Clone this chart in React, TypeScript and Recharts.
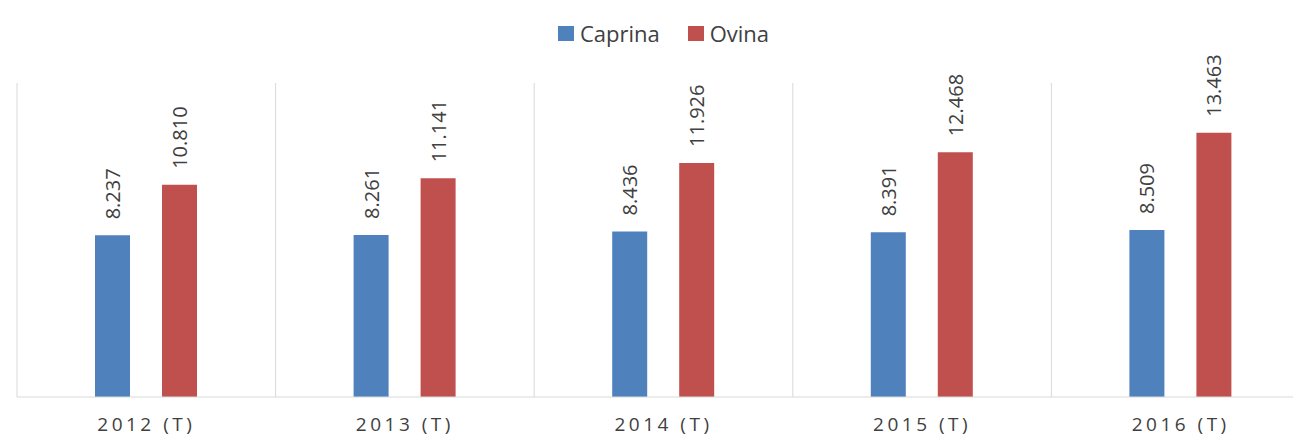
import { BarChart, Bar, XAxis, YAxis, CartesianGrid, Legend, LabelList } from "recharts";

const YEARS = ["2012 (T)", "2013 (T)", "2014 (T)", "2015 (T)", "2016 (T)"];
const CAPRINA = [8237, 8261, 8436, 8391, 8509];
const OVINA = [10810, 11141, 11926, 12468, 13463];
const Y_DOMAIN = [0, 16000];

const SERIES = [
  { key: "caprina", name: "Caprina", color: "#4f81bd" },
  { key: "ovina", name: "Ovina", color: "#c0504d" },
];

const data = YEARS.map((year, i) => ({
  year,
  caprina: CAPRINA[i],
  ovina: OVINA[i],
}));

const FONT = "'Open Sans', 'DejaVu Sans', sans-serif";
const TEXT = "#404040";
const GRID = "#d9d9d9";

// thousands with a dot separator, e.g. 13463 -> 13.463
const fmt = (v: number) => String(v).replace(/\B(?=(\d{3})+(?!\d))/g, ".");

function RotatedLabel(props: any) {
  const { x, y, width, value } = props;
  const cx = Number(x) + Number(width) / 2;
  const cy = Number(y) - 16;
  return (
    <text
      x={cx}
      y={cy}
      transform={`rotate(-90 ${cx} ${cy})`}
      textAnchor="start"
      dominantBaseline="central"
      fill={TEXT}
      fontSize={20}
      fontFamily={FONT}
    >
      {fmt(Number(value))}
    </text>
  );
}

function LegendContent() {
  return (
    <div style={{ height: 62, display: "flex", justifyContent: "center", fontFamily: FONT }}>
      {SERIES.map((s) => (
        <div
          key={s.key}
          style={{ display: "flex", alignItems: "center", height: 24, marginRight: 14, marginLeft: 14 }}
        >
          <span style={{ width: 16, height: 15, background: s.color, marginRight: 6 }} />
          <span style={{ fontSize: 22, color: TEXT }}>{s.name}</span>
        </div>
      ))}
    </div>
  );
}

export default function App() {
  return (
    <div style={{ margin: -8, width: 1301, height: 443, overflow: "hidden", background: "#fff" }}>
      <BarChart
        width={1330}
        height={443}
        data={data}
        margin={{ top: 21, right: 20, bottom: 0, left: 17 }}
        barSize={35}
        barGap={32}
      >
        <CartesianGrid
          horizontal={false}
          stroke={GRID}
          verticalCoordinatesGenerator={({ offset }: any) =>
            YEARS.concat("").map((_, i) => offset.left + (i * offset.width) / YEARS.length)
          }
        />
        <XAxis
          dataKey="year"
          axisLine={{ stroke: GRID }}
          tickLine={false}
          tickMargin={15}
          height={46}
          tick={{ fill: TEXT, fontSize: 19, fontFamily: FONT, letterSpacing: 3.5 }}
          interval={0}
        />
        <YAxis hide domain={Y_DOMAIN} />
        <Legend verticalAlign="top" content={<LegendContent />} />
        {SERIES.map((s) => (
          <Bar key={s.key} dataKey={s.key} name={s.name} fill={s.color} isAnimationActive={false}>
            <LabelList dataKey={s.key} content={<RotatedLabel />} />
          </Bar>
        ))}
      </BarChart>
    </div>
  );
}
